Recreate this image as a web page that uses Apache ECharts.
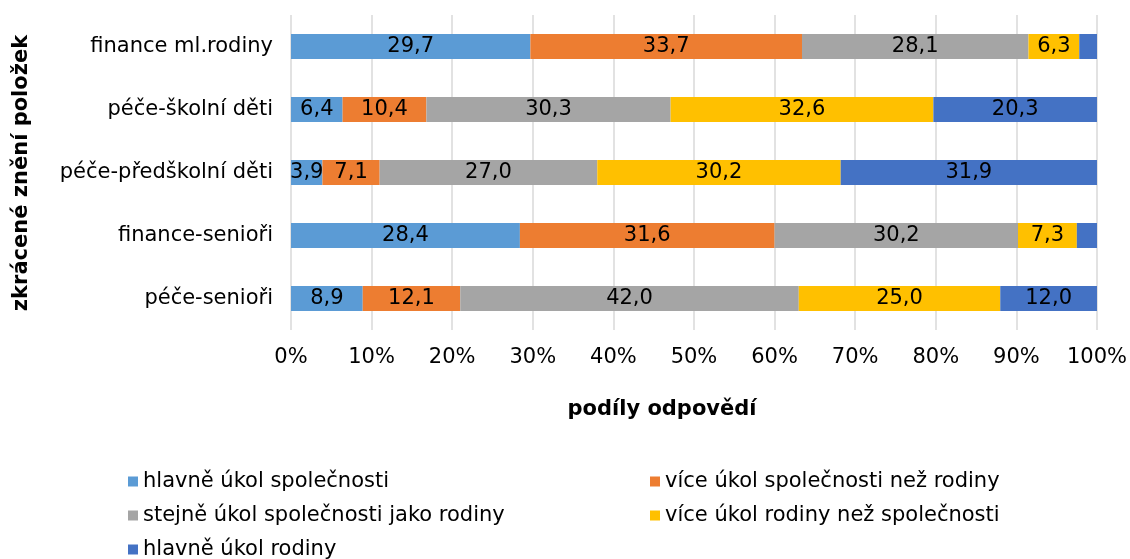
<!DOCTYPE html>
<html>
<head>
<meta charset="utf-8">
<script src="https://cdn.jsdelivr.net/npm/echarts@6/dist/echarts.min.js"></script>
<style>
  html, body { margin: 0; padding: 0; background: #fff; }
  #chart { width: 1130px; height: 559px; }
</style>
</head>
<body>
<div id="chart"></div>
<script>
// categories listed top to bottom as in the picture
const categories = ["finance ml.rodiny", "péče-školní děti", "péče-předškolní děti", "finance-senioři", "péče-senioři"];
const seriesNames = [
  "hlavně úkol společnosti",
  "více úkol společnosti než rodiny",
  "stejně úkol společnosti jako rodiny",
  "více úkol rodiny než společnosti",
  "hlavně úkol rodiny"
];
const hlavneSpolecnost = [29.7, 6.4, 3.9, 28.4, 8.9];
const viceSpolecnost = [33.7, 10.4, 7.1, 31.6, 12.1];
const stejne = [28.1, 30.3, 27.0, 30.2, 42.0];
const viceRodina = [6.3, 32.6, 30.2, 7.3, 25.0];
const hlavneRodina = [2.2, 20.3, 31.9, 2.5, 12.0];
const xTicks = [0, 10, 20, 30, 40, 50, 60, 70, 80, 90, 100];

const colors = ["#5B9BD5", "#ED7D31", "#A5A5A5", "#FFC000", "#4472C4"];
const values = [hlavneSpolecnost, viceSpolecnost, stejne, viceRodina, hlavneRodina];
const font = "'DejaVu Sans', Verdana, sans-serif";
const fs = 21;

const chart = echarts.init(document.getElementById("chart"), null, { renderer: "canvas" });

const series = seriesNames.map((name, i) => ({
  name,
  type: "bar",
  stack: "total",
  barWidth: 25,
  itemStyle: { color: colors[i] },
  label: {
    show: true,
    position: "inside",
    color: "#000",
    fontFamily: font,
    fontSize: fs,
    // the two tiny end segments carry no label in the original
    formatter: p => p.value < 3 ? "" : p.value.toFixed(1).replace(".", ",")
  },
  data: values[i].slice().reverse()
}));

chart.setOption({
  animation: false,
  textStyle: { fontFamily: font },
  grid: { left: 291, right: 33, top: 15, bottom: 229, containLabel: false },
  xAxis: {
    type: "value",
    min: 0, max: 100, interval: 10,
    axisLine: { show: false },
    axisTick: { show: false },
    splitLine: { show: true, lineStyle: { color: "#D9D9D9", width: 1.5 } },
    axisLabel: {
      color: "#000", fontSize: fs, fontFamily: font, margin: 17,
      formatter: v => xTicks.includes(v) ? v + "%" : ""
    }
  },
  yAxis: {
    type: "category",
    data: categories.slice().reverse(),
    axisLine: { show: false },
    axisTick: { show: false },
    axisLabel: { color: "#000", fontSize: fs, fontFamily: font, margin: 18 }
  },
  graphic: [
    {
      type: "text", x: 662, y: 410,
      style: { text: "podíly odpovědí", fill: "#000", font: "bold " + fs + "px " + font, textAlign: "center", textVerticalAlign: "middle" }
    },
    {
      type: "text", x: 22, y: 173, rotation: Math.PI / 2,
      style: { text: "zkrácené znění položek", fill: "#000", font: "bold " + fs + "px " + font, textAlign: "center", textVerticalAlign: "middle" }
    }
  ],
  series
});

// legend laid out in two columns like the original
const legendPos = [[128, 482], [650, 482], [128, 516], [650, 516], [128, 550]];
chart.setOption({
  legend: seriesNames.map((name, i) => ({
    show: true,
    data: [name],
    left: legendPos[i][0],
    top: legendPos[i][1] - 11,
    icon: "rect",
    itemWidth: 10, itemHeight: 10, itemGap: 0,
    padding: 0,
    textStyle: { color: "#000", fontSize: fs, fontFamily: font },
    selectedMode: false
  }))
});
</script>
</body>
</html>
